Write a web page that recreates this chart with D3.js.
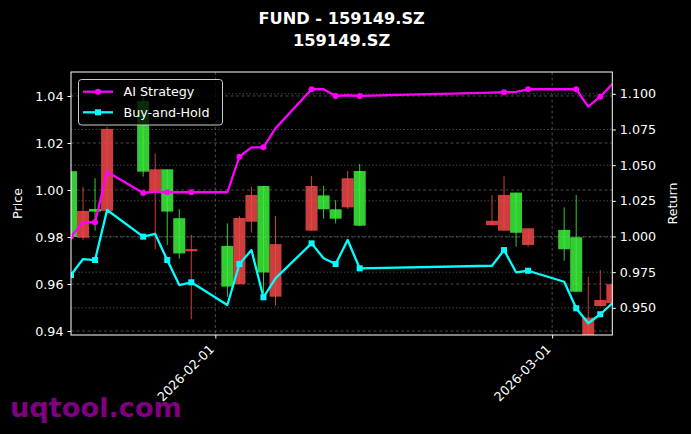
<!DOCTYPE html>
<html><head><meta charset="utf-8">
<script src="https://cdn.jsdelivr.net/npm/d3@7"></script>
<style>
html,body{margin:0;padding:0;background:#000;}
svg{display:block;font-family:"DejaVu Sans",sans-serif;}
</style></head>
<body><svg id="c" width="691" height="434"></svg>
<script>
const dates = ["2026-01-20","2026-01-21","2026-01-22","2026-01-23","2026-01-26","2026-01-27","2026-01-28","2026-01-29","2026-01-30","2026-02-02","2026-02-03","2026-02-04","2026-02-05","2026-02-06","2026-02-09","2026-02-10","2026-02-11","2026-02-12","2026-02-13","2026-02-24","2026-02-25","2026-02-26","2026-02-27","2026-03-02","2026-03-03","2026-03-04","2026-03-05","2026-03-06"];
const openP  = [0.980,0.9911,0.9908,1.026,1.0078,1.0088,0.9908,0.973,0.9749,0.9589,0.9881,0.9979,0.9649,0.977,1.0017,0.9918,0.9878,1.005,0.9848,0.9869,0.9979,0.9818,0.9837,0.9748,0.9567,0.9457,0.9532,0.9599];
const closeP = [1.008,0.9797,0.9919,0.9911,1.0379,0.9993,1.0088,0.988,0.9739,0.9762,0.9599,0.9865,1.0017,0.9546,0.9827,0.9977,0.9918,0.9926,1.0081,0.985,0.9827,0.9989,0.9766,0.983,0.9799,0.936,0.9506,0.9518];
const highP  = [1.008,1.0014,1.005,1.0269,1.040,1.0156,1.0088,0.9919,0.9809,0.9858,0.9889,1.0014,1.0017,0.9889,1.006,1.0017,0.9957,1.0081,1.0111,0.9979,1.006,0.9989,0.9837,0.9926,0.9979,0.9631,0.966,0.9599];
const lowP   = [0.980,0.9787,0.9828,0.9911,1.0057,0.9748,0.9766,0.9708,0.945,0.9546,0.9599,0.9818,0.9562,0.9508,0.9827,0.9878,0.9858,0.9919,0.9848,0.985,0.9827,0.9759,0.9759,0.9699,0.9567,0.936,0.9506,0.9518];
const aiStrategy = [1.000,1.010,1.010,1.0454,1.0305,1.0314,1.031,1.031,1.031,1.031,1.0559,1.0625,1.0625,1.0758,1.1032,1.1032,1.0985,1.099,1.0985,1.1008,1.1011,1.1013,1.1032,1.1032,1.1032,1.091,1.098,1.1069];
const buyHold = [0.973,0.9842,0.9835,1.0186,0.9999,1.0018,0.9835,0.966,0.9679,0.952,0.9807,0.9905,0.9574,0.9707,0.9952,0.9847,0.9807,0.9975,0.9777,0.9795,0.9905,0.9749,0.976,0.9683,0.9497,0.9392,0.9455,0.9532];
const priceTicks = [0.94,0.96,0.98,1.00,1.02,1.04];
const returnTicks = [0.950,0.975,1.000,1.025,1.050,1.075,1.100];
const xTicks = ["2026-02-01","2026-03-01"];
const titleLines = ["FUND - 159149.SZ","159149.SZ"];

const parse = d3.utcParse("%Y-%m-%d");
const D = dates.map(parse);
const L=71, R=612.3, T=72, B=335;
const svg = d3.select("#c");
svg.append("rect").attr("width",691).attr("height",434).attr("fill","#000");

const x = d3.scaleUtc().domain([D[0], D[D.length-1]]).range([L,R]);
const yP = d3.scaleLinear().domain([0.9383,1.0502]).range([B,T]);
const yR = d3.scaleLinear().domain([0.93096,1.1153]).range([B,T]);
const dayW = x(parse("2026-01-21")) - x(parse("2026-01-20"));

svg.append("clipPath").attr("id","clip").append("rect").attr("x",L).attr("y",T).attr("width",R-L).attr("height",B-T);

// grids
const grid = svg.append("g").attr("stroke","#5a5a5a").attr("stroke-width",0.8).attr("stroke-dasharray","3,2.5");
priceTicks.forEach(t=>grid.append("line").attr("x1",L).attr("x2",R).attr("y1",yP(t)).attr("y2",yP(t)));
returnTicks.forEach(t=>grid.append("line").attr("x1",L).attr("x2",R).attr("y1",yR(t)).attr("y2",yR(t)).attr("stroke-dasharray","1.5,2"));
xTicks.forEach(t=>grid.append("line").attr("x1",x(parse(t))).attr("x2",x(parse(t))).attr("y1",T).attr("y2",B));

// candles
const cg = svg.append("g").attr("clip-path","url(#clip)");
const up = "#3cf03c", dn = "#f04848";
D.forEach((d,i)=>{
  const col = closeP[i]>=openP[i]?up:dn;
  const top = yP(Math.max(openP[i],closeP[i])), bot = yP(Math.min(openP[i],closeP[i]));
  cg.append("rect").attr("x",x(d)-dayW*0.5).attr("width",dayW).attr("y",top).attr("height",Math.max(1.5,bot-top)).attr("fill",col).attr("opacity",0.85);
  cg.append("line").attr("x1",x(d)).attr("x2",x(d)).attr("y1",yP(highP[i])).attr("y2",yP(lowP[i])).attr("stroke",col).attr("stroke-width",1).attr("opacity",0.85);
});

// lines
const lg = svg.append("g").attr("clip-path","url(#clip)");
function drawLine(vals,color,shape){
  const line = d3.line().x((v,i)=>x(D[i])).y(v=>yR(v));
  lg.append("path").attr("d",line(vals)).attr("fill","none").attr("stroke",color).attr("stroke-width",2.3).attr("stroke-linejoin","round");
  vals.forEach((v,i)=>{ if(i%2===0){
    if(shape==="o") lg.append("circle").attr("cx",x(D[i])).attr("cy",yR(v)).attr("r",3).attr("fill",color);
    else lg.append("rect").attr("x",x(D[i])-3).attr("y",yR(v)-3).attr("width",6).attr("height",6).attr("fill",color);
  }});
}
drawLine(aiStrategy,"#ff00ff","o");
drawLine(buyHold,"#00ffff","s");

// frame
svg.append("rect").attr("x",L).attr("y",T).attr("width",R-L).attr("height",B-T).attr("fill","none").attr("stroke","#fff").attr("stroke-width",1);

// axes
const fs = 12.7;
const axL = svg.append("g").attr("transform",`translate(${L},0)`).call(d3.axisLeft(yP).tickValues(priceTicks).tickFormat(d3.format(".2f")).tickSize(3.5).tickPadding(4));
const axR = svg.append("g").attr("transform",`translate(${R},0)`).call(d3.axisRight(yR).tickValues(returnTicks).tickFormat(d3.format(".3f")).tickSize(3.5).tickPadding(4));
const axB = svg.append("g").attr("transform",`translate(0,${B})`).call(d3.axisBottom(x).tickValues(xTicks.map(parse)).tickFormat(d3.utcFormat("%Y-%m-%d")).tickSize(3.5).tickPadding(4));
[axL,axR,axB].forEach(a=>{
  a.select(".domain").remove();
  a.selectAll("line").attr("stroke","#fff");
  a.selectAll("text").attr("fill","#fff").attr("font-size",fs).attr("font-family","DejaVu Sans");
});
axB.selectAll("text").attr("text-anchor","end").attr("dy",null).attr("y",0).attr("x",0)
  .attr("transform","translate(-1,15) rotate(-45)");

svg.append("text").attr("transform",`translate(22,${(T+B)/2}) rotate(-90)`).attr("text-anchor","middle").attr("fill","#fff").attr("font-size",fs).text("Price");
svg.append("text").attr("transform",`translate(677,${(T+B)/2}) rotate(-90)`).attr("text-anchor","middle").attr("fill","#fff").attr("font-size",fs).text("Return");

// title
titleLines.forEach((t,i)=>svg.append("text").attr("x",(L+R)/2).attr("y",24+i*21.5).attr("text-anchor","middle").attr("fill","#fff").attr("font-weight","bold").attr("font-size",16.2).text(t));

// legend
const leg = svg.append("g");
leg.append("rect").attr("x",78.5).attr("y",79.5).attr("width",144).attr("height",45.5).attr("rx",3).attr("fill","#000").attr("fill-opacity",0.8).attr("stroke","#cccccc").attr("stroke-width",1);
[["AI Strategy","#ff00ff","o"],["Buy-and-Hold","#00ffff","s"]].forEach((e,i)=>{
  const yy = 91.7 + i*20.6;
  leg.append("line").attr("x1",83).attr("x2",113).attr("y1",yy).attr("y2",yy).attr("stroke",e[1]).attr("stroke-width",2.3);
  if(e[2]==="o") leg.append("circle").attr("cx",98).attr("cy",yy).attr("r",3).attr("fill",e[1]);
  else leg.append("rect").attr("x",95).attr("y",yy-3).attr("width",6).attr("height",6).attr("fill",e[1]);
  leg.append("text").attr("x",123.5).attr("y",yy+4.5).attr("fill","#fff").attr("font-size",fs).text(e[0]);
});

// watermark
svg.append("text").attr("x",10).attr("y",417).attr("fill","#800080").attr("font-weight","bold").attr("font-size",27.2).text("uqtool.com");
</script></body></html>
